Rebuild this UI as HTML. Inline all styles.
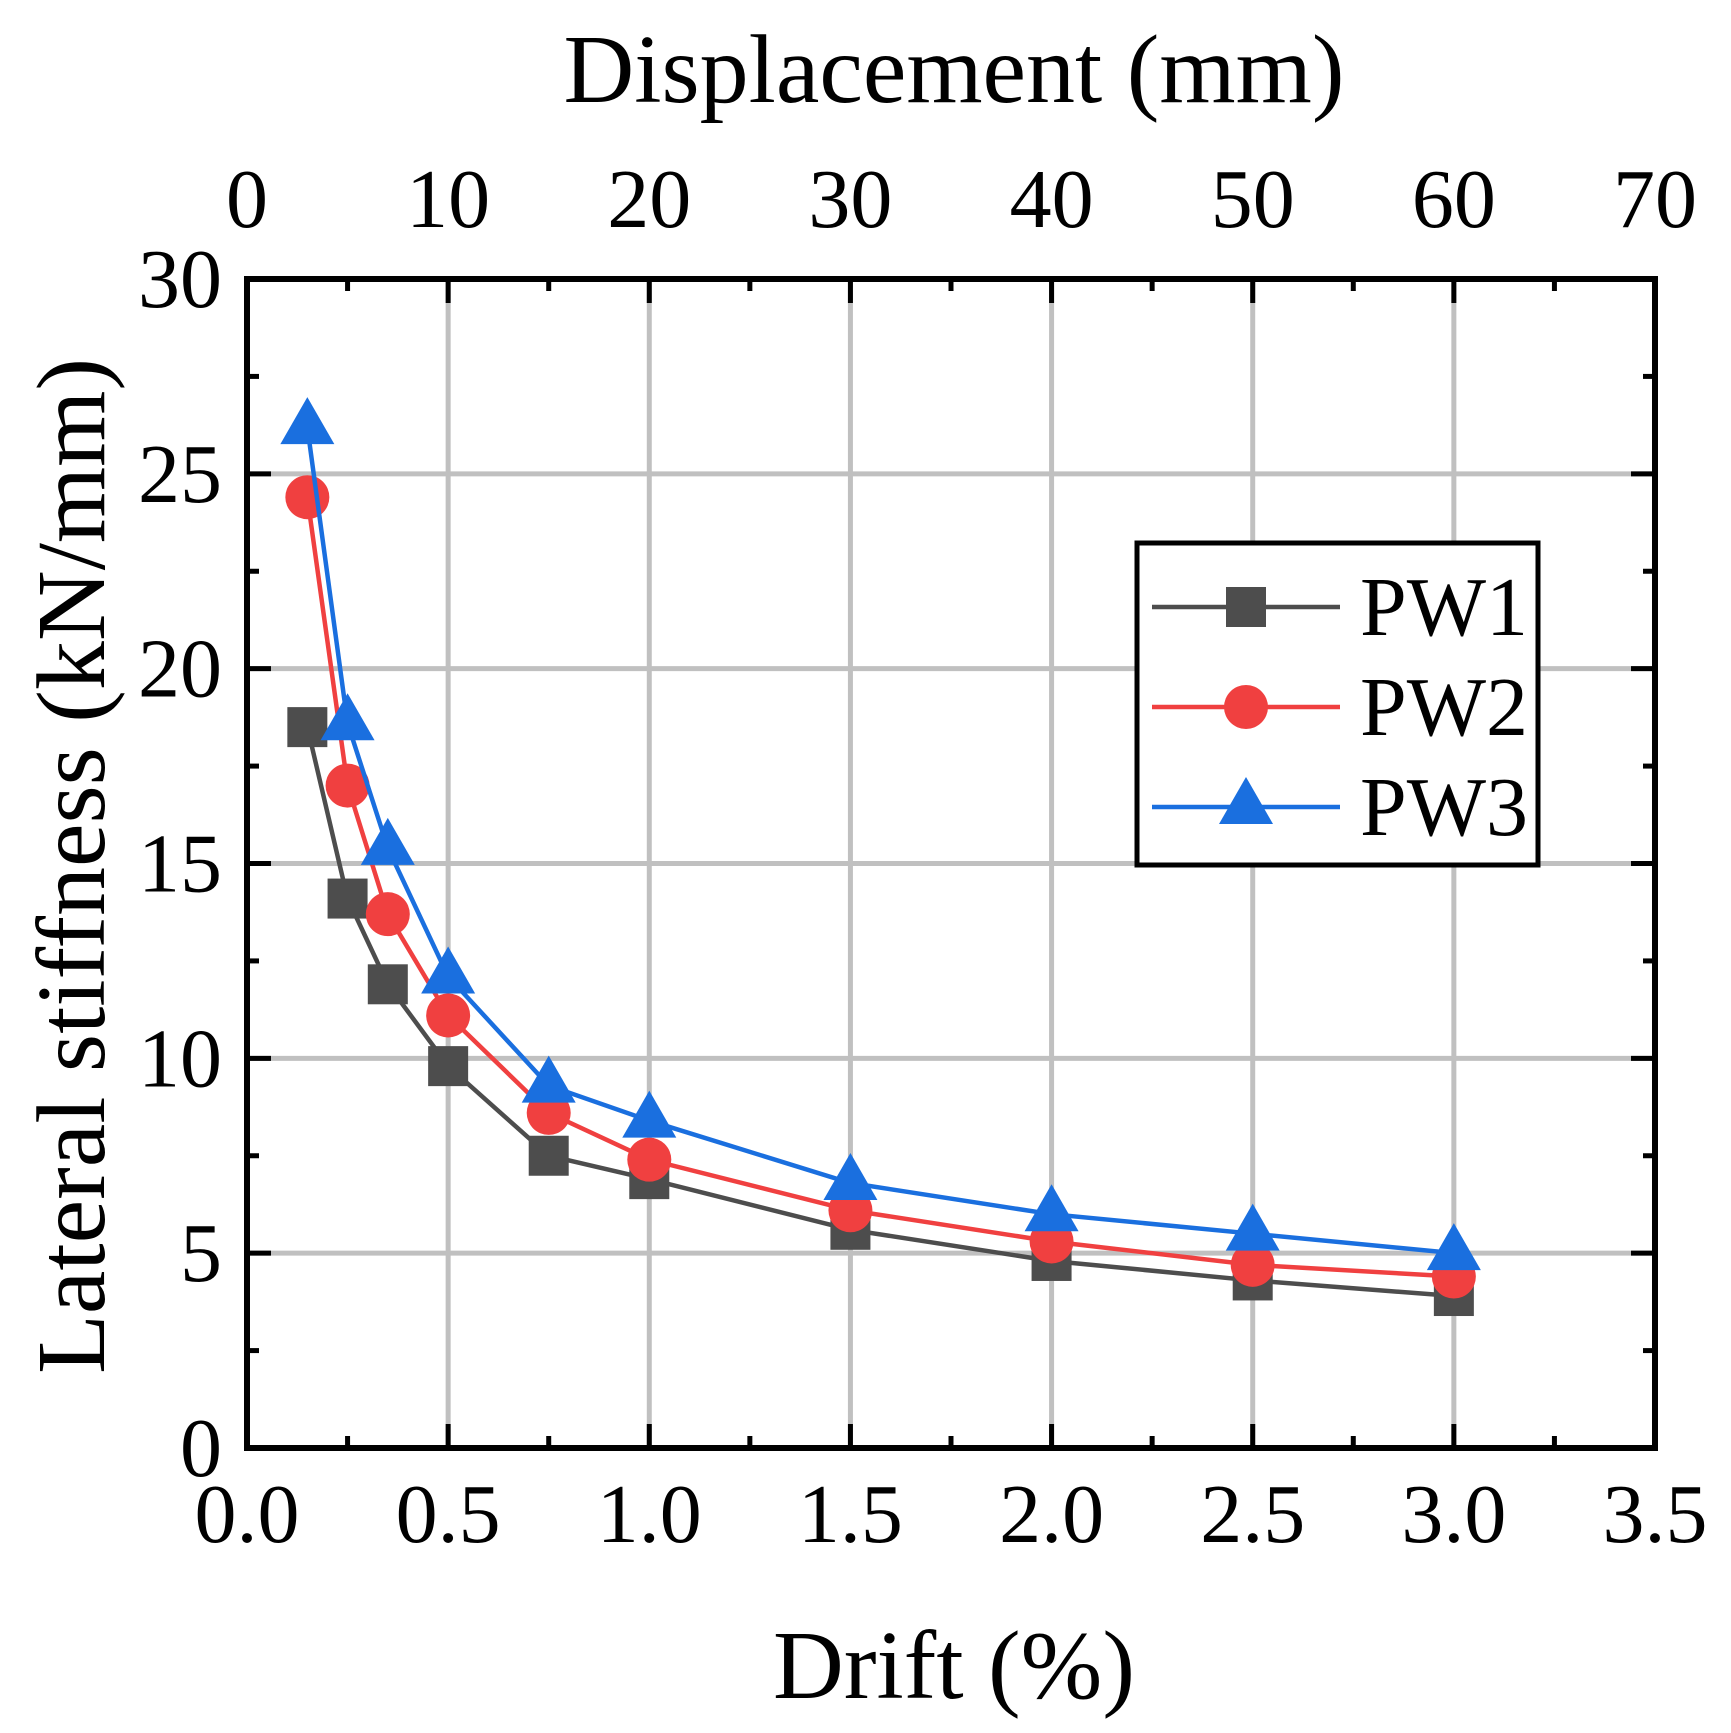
<!DOCTYPE html>
<html><head><meta charset="utf-8"><style>
html,body{margin:0;padding:0;background:#fff}
svg text{font-family:"Liberation Serif",serif;fill:#000}
</style></head><body>
<svg id="c" width="1731" height="1728" viewBox="0 0 1731 1728" xmlns="http://www.w3.org/2000/svg"></svg>
<script>
const drift = [0.15, 0.25, 0.35, 0.5, 0.75, 1.0, 1.5, 2.0, 2.5, 3.0];
const pw1 = [18.5, 14.1, 11.9, 9.8, 7.5, 6.9, 5.6, 4.8, 4.3, 3.9];
const pw2 = [24.4, 17.0, 13.7, 11.1, 8.6, 7.4, 6.1, 5.3, 4.7, 4.4];
const pw3 = [26.2, 18.6, 15.4, 12.1, 9.3, 8.4, 6.8, 6.0, 5.5, 5.0];
const xTicks = [0, 0.5, 1.0, 1.5, 2.0, 2.5, 3.0, 3.5];
const xTickLabels = ["0.0","0.5","1.0","1.5","2.0","2.5","3.0","3.5"];
const topTickLabels = ["0","10","20","30","40","50","60","70"];
const yTicks = [0, 5, 10, 15, 20, 25, 30];

const L=247,R=1655,T=279,B=1448;
const sx=v=>L+(v/3.5)*(R-L);
const sy=v=>B-(v/30)*(B-T);
const svg=document.getElementById('c');
const NS='http://www.w3.org/2000/svg';
function mk(tag,attrs,parent){const e=document.createElementNS(NS,tag);for(const k in attrs)e.setAttribute(k,attrs[k]);(parent||svg).appendChild(e);return e;}

const grid=mk('g',{});


xTicks.forEach(v=>{if(v>0&&v<3.5)mk('line',{x1:sx(v),x2:sx(v),y1:T,y2:B,stroke:'#c0c0c0','stroke-width':5},grid);});
yTicks.forEach(v=>{if(v>0&&v<30)mk('line',{x1:L,x2:R,y1:sy(v),y2:sy(v),stroke:'#c0c0c0','stroke-width':5},grid);});

const ticks=mk('g',{stroke:'#000','stroke-width':5});


for(let i=0;i<xTicks.length;i++){
  const v=xTicks[i],x=sx(v);
  mk('line',{x1:x,x2:x,y1:B,y2:B-24},ticks);mk('line',{x1:x,x2:x,y1:T,y2:T+24},ticks);
  if(i<xTicks.length-1){const m=sx(v+0.25);mk('line',{x1:m,x2:m,y1:B,y2:B-12},ticks);mk('line',{x1:m,x2:m,y1:T,y2:T+12},ticks);}
}
for(let i=0;i<yTicks.length;i++){
  const v=yTicks[i],y=sy(v);
  mk('line',{x1:L,x2:L+24,y1:y,y2:y},ticks);mk('line',{x1:R,x2:R-24,y1:y,y2:y},ticks);
  if(i<yTicks.length-1){const m=sy(v+2.5);mk('line',{x1:L,x2:L+12,y1:m,y2:m},ticks);mk('line',{x1:R,x2:R-12,y1:m,y2:m},ticks);}
}
const frame=mk('rect',{x:L,y:T,width:R-L,height:B-T,fill:'none',stroke:'#000','stroke-width':6});



xTicks.forEach((v,i)=>{
  const t=mk('text',{x:sx(v),y:1542,'text-anchor':'middle','font-size':84});t.textContent=xTickLabels[i];
  
  
  const u=mk('text',{x:sx(v),y:227,'text-anchor':'middle','font-size':84});u.textContent=topTickLabels[i];
  
  
});
yTicks.forEach(v=>{
  const t=mk('text',{x:222,y:sy(v)+28,'text-anchor':'end','font-size':84});t.textContent=String(v);
  
  
});

let tt=mk('text',{x:954,y:102,'text-anchor':'middle','font-size':98});tt.textContent='Displacement (mm)';


tt=mk('text',{x:954,y:1698,'text-anchor':'middle','font-size':98});tt.textContent='Drift (%)';


tt=mk('text',{x:0,y:0,'text-anchor':'middle','font-size':98,transform:'translate(104,866) rotate(-90)'});tt.textContent='Lateral stiffness (kN/mm)';



function marker(kind,x,y,color,g){
  if(kind==='square')return mk('rect',{x:x-20,y:y-20,width:40,height:40,fill:color},g);
  if(kind==='circle')return mk('circle',{cx:x,cy:y,r:22,fill:color},g);
  return mk('polygon',{points:`${x},${y-30} ${x-27},${y+17} ${x+27},${y+17}`,fill:color},g);
}
const series=[['pw1',pw1,'#4d4d4d','square','PW1'],['pw2',pw2,'#f04040','circle','PW2'],['pw3',pw3,'#1a6fdf','triangle','PW3']];
series.forEach(([n,vals,col,kind])=>{
  const g=mk('g',{});
  
  
  mk('polyline',{points:drift.map((d,i)=>sx(d)+','+sy(vals[i])).join(' '),fill:'none',stroke:col,'stroke-width':4.5},g);
  drift.forEach((d,i)=>{const m=marker(kind,sx(d),sy(vals[i]),col,g);
    
    });
});

const lg=mk('g',{});


mk('rect',{x:1137,y:543,width:401,height:322,fill:'#fff',stroke:'#000','stroke-width':5},lg);
series.forEach(([n,vals,col,kind,label],i)=>{
  const y=607+i*100;
  const e=mk('g',{},lg);
  
  
  mk('line',{x1:1152,x2:1340,y1:y,y2:y,stroke:col,'stroke-width':4.5},e);
  marker(kind,1246,y,col,e);
  const t=mk('text',{x:1360,y:y+28,'font-size':84},e);t.textContent=label;
});
</script>
</body></html>
